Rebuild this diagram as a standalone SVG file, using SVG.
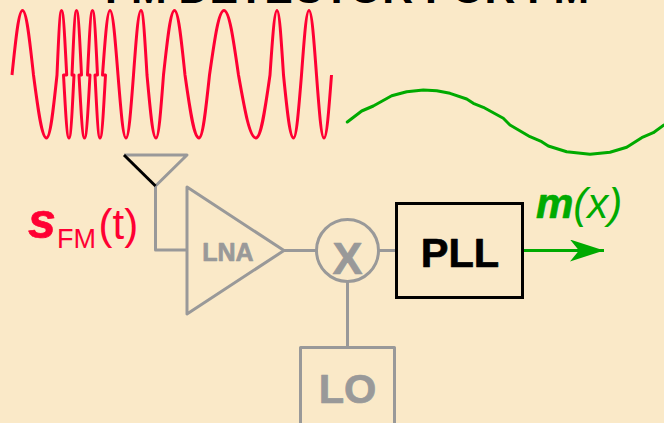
<svg xmlns="http://www.w3.org/2000/svg" width="664" height="423" viewBox="0 0 664 423">
<style>
.g{fill:none;stroke:#999;stroke-width:3;stroke-linejoin:round}
.t{font-family:"Liberation Sans",Arial,sans-serif;font-weight:bold}
.r{font-family:"Liberation Sans",Arial,sans-serif}
.h{stroke-width:.7;stroke-linejoin:round}
</style>
<defs><marker id="ah" markerUnits="userSpaceOnUse" markerWidth="36" markerHeight="24" refX="34" refY="11" orient="auto"><path d="M0 0L34 11L0 22L9 11Z" fill="#0a0"/></marker></defs>
<rect width="664" height="423" fill="#fae9c8"/>
<text class="t" x="347" y="3" font-size="42.800" text-anchor="middle">FM DETECTOR FOR FM</text>
<path id="fm" fill="none" stroke="#ff0033" stroke-width="3" stroke-linejoin="round" d="M12 75C15.800 38 18.700 10.500 22.500 10.500C26.500 10.500 29.500 38 33.500 75C38.200 111 41.800 138 46.500 138C50.300 138 53.200 111 57 75C58.600 38 59.900 10.500 61.500 10.500C63.400 10.500 64.800 38 66.700 75L63.500 75C65.500 111 67 138 69 138C70.800 138 72.200 111 74 75L72 75C73.600 38 74.900 10.500 76.500 10.500C78.300 10.500 79.700 38 81.500 75L79 75C81 111 82.500 138 84.500 138C86.500 138 88 111 90 75L87.500 75C89.300 38 90.700 10.500 92.500 10.500C94.300 10.500 95.700 38 97.500 75L95 75C96.800 111 98.200 138 100 138C102 138 103.500 111 105.500 75L102.500 75C105.200 38 107.300 10.500 110 10.500C112.900 10.500 115.100 38 118 75C120.900 111 123.100 138 126 138C128.700 138 130.800 111 133.500 75C136.200 38 138.300 10.500 141 10.500C143.200 10.500 144.800 38 147 75C150.300 111 152.700 138 156 138C158.700 138 160.800 111 163.500 75C167.500 38 170.500 10.500 174.500 10.500C178.300 10.500 181.200 38 185 75C190.100 111 193.900 138 199 138C202.800 138 205.700 111 209.500 75C214.800 38 218.700 10.500 224 10.500C229.300 10.500 233.200 38 238.500 75C244.900 111 249.600 138 256 138C261.100 138 264.900 111 270 75C272.500 38 274.500 10.500 277 10.500C279.400 10.500 281.100 38 283.500 75C287.100 111 289.900 138 293.500 138C296.400 138 298.600 111 301.500 75C304.200 38 306.300 10.500 309 10.500C311.700 10.500 313.800 38 316.500 75C319.200 111 321.300 138 324 138C326.700 138 328.800 111 331.500 75"/>
<path id="msg" fill="none" stroke="#00aa00" stroke-width="3" stroke-linejoin="round" stroke-linecap="round" d="M347.300 122L361.700 111L373.300 106L391.700 95.700L406.700 91.700L423.300 90L436.700 90.700L450 93.300L466.700 99L473.300 103.300L483.300 107.300L503.300 118.300L510 125L530 136.700L541.700 141.700L548.300 146L566.700 151.700L590 154.300L610 152.300L626.700 147.300L641.700 137.700L653.300 132.700L664 125"/>
<g id="connectors">
<path class="g" d="M155.500 186V250H187"/>
<path class="g" d="M284 250.500H316"/>
<path class="g" d="M379 250.500H396"/>
<path class="g" d="M347.500 282V347"/>
<path d="M524 250.500H604" fill="none" stroke="#0a0" stroke-width="3" marker-end="url(#ah)"/>
</g>
<g id="antenna"><path class="g" d="M124 155H187L155.500 186"/><path d="M124 155L155.500 186" fill="none" stroke="#000" stroke-width="3"/></g>
<g id="lna"><path class="g" d="M187 187L284 250.500L187 314Z"/><text class="t h" x="228" y="260.500" font-size="25" fill="#999" stroke="#999" text-anchor="middle">LNA</text></g>
<g id="mixer"><circle class="g" cx="347.500" cy="250.500" r="31"/><text class="t h" x="347.500" y="273.500" font-size="45" fill="#999" stroke="#999" text-anchor="middle">X</text></g>
<g id="pll"><rect x="396.500" y="203.500" width="126" height="94" fill="none" stroke="#000" stroke-width="3"/><text class="t h" x="460" y="267" font-size="41.500" stroke="#000" text-anchor="middle">PLL</text></g>
<g id="lo"><rect class="g" x="300.500" y="347.500" width="94" height="90"/><text class="t h" x="347.500" y="403" font-size="41.500" fill="#999" stroke="#999" text-anchor="middle">LO</text></g>
<text class="t h" x="28" y="238" font-size="50" font-style="italic" fill="#ff0033" stroke="#ff0033">s</text>
<text class="r" x="57" y="248" font-size="27" fill="#ff0033">FM</text>
<text class="r" x="98.500" y="239" font-size="42" fill="#ff0033">(t)</text>
<text class="r" x="536" y="218" font-size="42" fill="#00aa00" font-style="italic"><tspan class="h" stroke="#00aa00" font-weight="bold">m</tspan>(x)</text>
</svg>
